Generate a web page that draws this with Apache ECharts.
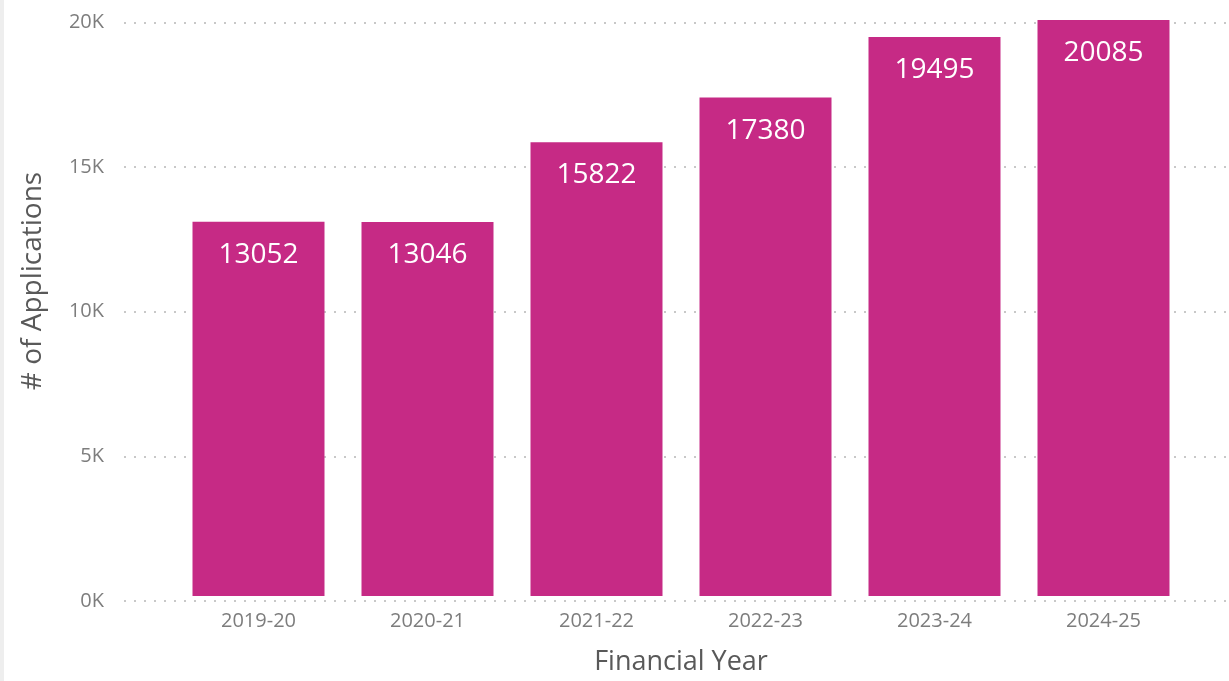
<!DOCTYPE html>
<html>
<head>
<meta charset="utf-8">
<script src="https://cdn.jsdelivr.net/npm/echarts@6/dist/echarts.min.js"></script>
<style>
  html, body { margin: 0; padding: 0; background: #fff; }
  #chart { width: 1229px; height: 681px; }
</style>
</head>
<body>
<div id="chart"></div>
<script>
const anios = ['2019-20', '2020-21', '2021-22', '2022-23', '2023-24', '2024-25'];
const solicitudes = [13052, 13046, 15822, 17380, 19495, 20085];
const ticksY = [0, 5000, 10000, 15000, 20000];

const fuente = 'Open Sans';
const gris = '#7d7d7d';
const grisTitulo = '#595959';
const rosa = '#C62A85';

// posiciones del area de dibujo (en px)
const yCero = 601;
const yTope = 22.5;
const escala = (yCero - yTope) / ticksY[ticksY.length - 1];
const maxBarras = Math.max(...solicitudes);

const chart = echarts.init(document.getElementById('chart'));

const option = {
    backgroundColor: '#ffffff',
    animation: false,
    graphic: [
        { type: 'rect', left: 0, top: 0, shape: { width: 4, height: 681 }, style: { fill: '#eeeeee' } },
        {
            type: 'text', x: 33, y: 281, rotation: Math.PI / 2,
            style: {
                text: '# of Applications', font: '28px "' + fuente + '"', fill: grisTitulo,
                align: 'center', verticalAlign: 'middle'
            }
        }
    ],
    grid: [
        // grilla para las lineas punteadas
        { left: 124, right: 0, top: yTope, bottom: 681 - yCero },
        // grilla para las barras
        { left: 174, right: 41, top: yCero - maxBarras * escala, bottom: 681 - yCero }
    ],
    xAxis: [
        { gridIndex: 0, type: 'value', show: false },
        {
            gridIndex: 1,
            type: 'category',
            data: anios,
            axisLine: { show: false },
            axisTick: { show: false },
            axisLabel: { color: gris, fontSize: 20, fontFamily: fuente, margin: 15 },
            name: 'Financial Year',
            nameLocation: 'middle',
            nameGap: 53,
            nameTextStyle: { color: grisTitulo, fontSize: 27, fontFamily: fuente }
        }
    ],
    yAxis: [
        {
            gridIndex: 0,
            type: 'value',
            min: 0,
            max: ticksY[ticksY.length - 1],
            interval: 5000,
            axisLine: { show: false },
            axisTick: { show: false },
            axisLabel: {
                color: gris, fontSize: 20, fontFamily: fuente, margin: 20,
                formatter: v => (v / 1000) + 'K'
            },
            splitLine: { lineStyle: { color: '#c8c8c8', width: 2, type: [2, 8] } }
        },
        { gridIndex: 1, type: 'value', min: 0, max: maxBarras, show: false, splitLine: { show: false } }
    ],
    series: [{
        type: 'bar',
        xAxisIndex: 1,
        yAxisIndex: 1,
        data: solicitudes,
        barWidth: 132,
        itemStyle: { color: rosa },
        label: {
            show: true,
            position: 'insideTop',
            distance: 19,
            color: '#ffffff',
            fontSize: 28,
            fontFamily: fuente
        }
    }]
};

chart.setOption(option);
</script>
</body>
</html>
